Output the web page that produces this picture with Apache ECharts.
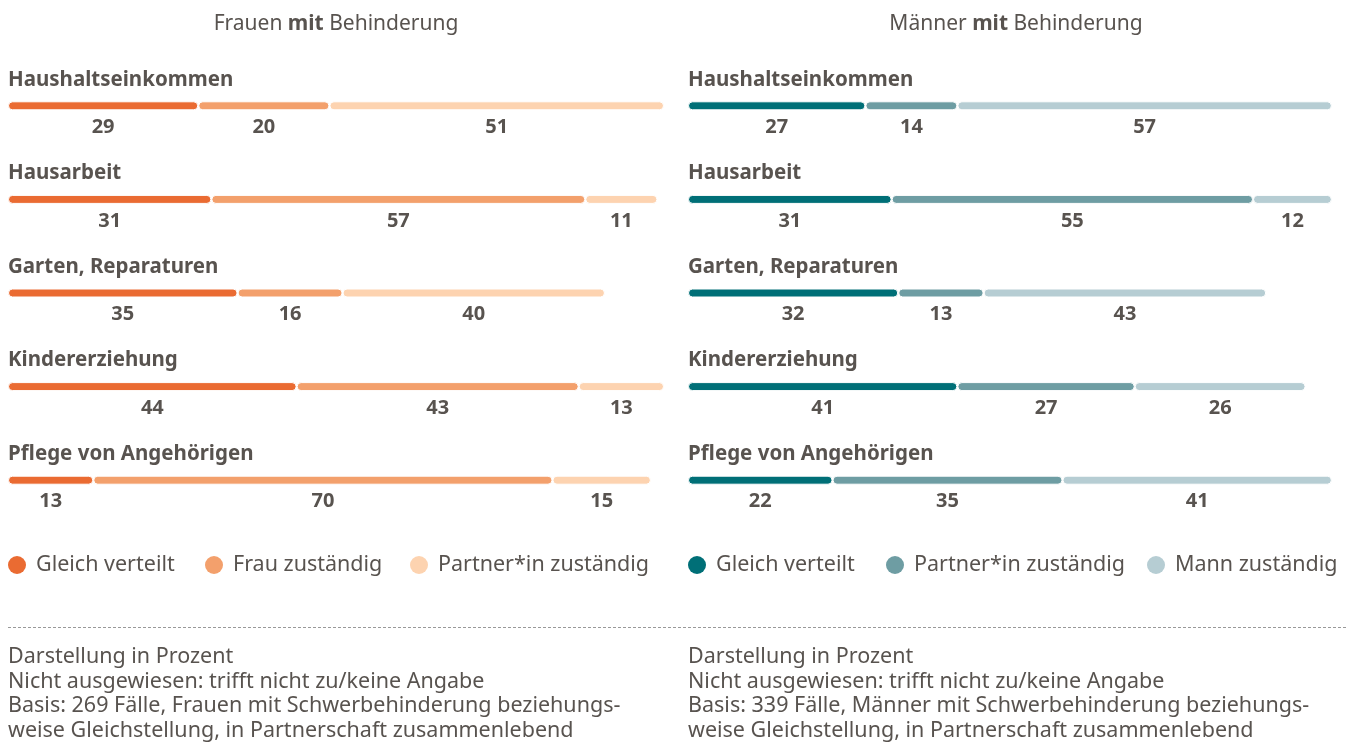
<!DOCTYPE html>
<html><head><meta charset="utf-8">
<script src="https://cdn.jsdelivr.net/npm/echarts@6/dist/echarts.min.js"></script>
<style>html,body{margin:0;padding:0;background:#fff}#c{width:1354px;height:753px}</style>
</head><body><div id="c"></div>
<script>
const categories = ['Haushaltseinkommen','Hausarbeit','Garten, Reparaturen','Kindererziehung','Pflege von Angehörigen'];
const womenNames = ['Gleich verteilt','Frau zuständig','Partner*in zuständig'];
const womenEqual = [29,31,35,44,13];
const womenSelf = [20,57,16,43,70];
const womenPartner = [51,11,40,13,15];
const menNames = ['Gleich verteilt','Partner*in zuständig','Mann zuständig'];
const menEqual = [27,31,32,41,22];
const menPartner = [14,55,13,27,35];
const menSelf = [57,12,43,26,41];
const womenColors = ['#EA6B32','#F3A06C','#FDD3B0'];
const menColors = ['#006F77','#6E9DA3','#B6CDD3'];
const panelTitles = ['Frauen', 'Männer'];
const notesLeft = ['Darstellung in Prozent','Nicht ausgewiesen: trifft nicht zu/keine Angabe','Basis: 269 Fälle, Frauen mit Schwerbehinderung beziehungs-','weise Gleichstellung, in Partnerschaft zusammenlebend'];
const notesRight = ['Darstellung in Prozent','Nicht ausgewiesen: trifft nicht zu/keine Angabe','Basis: 339 Fälle, Männer mit Schwerbehinderung beziehungs-','weise Gleichstellung, in Partnerschaft zusammenlebend'];

const TXT = '#58534f';
const FONT = 'Noto Sans';

function mkSeries(names, arrs, colors, idx, stack){
  return arrs.map((d,i)=>({
    type:'bar', name:names[i], xAxisIndex:idx, yAxisIndex:idx, stack:stack,
    data:d, barWidth:9,
    itemStyle:{color:colors[i], borderColor:'#fff', borderWidth:1, borderRadius:5},
    label:{show:true, position:'bottom', distance:7, color:TXT, fontFamily:FONT, fontWeight:'bold', fontSize:20},
    emphasis:{disabled:true}
  }));
}
function yAx(idx){
  return {type:'category', gridIndex:idx, data:categories, inverse:true,
    axisLine:{show:false}, axisTick:{show:false}, splitLine:{show:false},
    axisLabel:{inside:true, margin:0, align:'left', verticalAlign:'middle',
      formatter: v => '{t|' + v + '}',
      rich:{t:{padding:[0,0,52,0], color:TXT, fontFamily:FONT, fontWeight:'bold', fontSize:20.5, lineHeight:24}}}};
}
function xAx(idx){
  return {type:'value', gridIndex:idx, min:0, max:100, show:false};
}
const legendLefts = [[8,205,410],[688,886,1147]];
function mkLegends(names, colors, lefts){
  return names.map((n,i)=>({icon:'circle', itemWidth:18, itemHeight:18, top:554, left:lefts[i],
    padding:0, selectedMode:false,
    textStyle:{color:TXT, fontFamily:FONT, fontSize:21.5, padding:[0,0,0,5]},
    data:[{name:n, itemStyle:{color:colors[i], borderWidth:0}}]}));
}
const richHead = {a:{fontSize:21,color:TXT,fontFamily:FONT,fontWeight:'normal'},b:{fontSize:21,color:TXT,fontWeight:'bold',fontFamily:FONT}};

const option = {
  animation:false,
  textStyle:{fontFamily:FONT},
  title:[
    {text:'{a|'+panelTitles[0]+' }{b|mit}{a| Behinderung}', left:331, top:9, textAlign:'center',
     textStyle:{fontWeight:'normal', rich:richHead}},
    {text:'{a|'+panelTitles[1]+' }{b|mit}{a| Behinderung}', left:1011, top:9, textAlign:'center',
     textStyle:{fontWeight:'normal', rich:richHead}}
  ],
  grid:[
    {left:8, width:656, top:59, height:468},
    {left:688, width:657, top:59, height:468}
  ],
  xAxis:[xAx(0), xAx(1)],
  yAxis:[yAx(0), yAx(1)],
  legend: mkLegends(womenNames, womenColors, legendLefts[0]).concat(mkLegends(menNames, menColors, legendLefts[1])),
  series:[].concat(
    mkSeries(womenNames,[womenEqual,womenSelf,womenPartner],womenColors,0,'w'),
    mkSeries(menNames,[menEqual,menPartner,menSelf],menColors,1,'m')
  ),
  graphic:[
    {type:'line', shape:{x1:8,y1:627.5,x2:1346,y2:627.5}, style:{stroke:'#999', lineWidth:1, lineDash:[3,2]}},
    {type:'text', left:8, top:645, style:{text:notesLeft.join('\n'), fill:TXT, font:'21.5px "Noto Sans"', lineHeight:24.5}},
    {type:'text', left:688, top:645, style:{text:notesRight.join('\n'), fill:TXT, font:'21.5px "Noto Sans"', lineHeight:24.5}}
  ]
};
const chart = echarts.init(document.getElementById('c'));
chart.setOption(option);
</script></body></html>
